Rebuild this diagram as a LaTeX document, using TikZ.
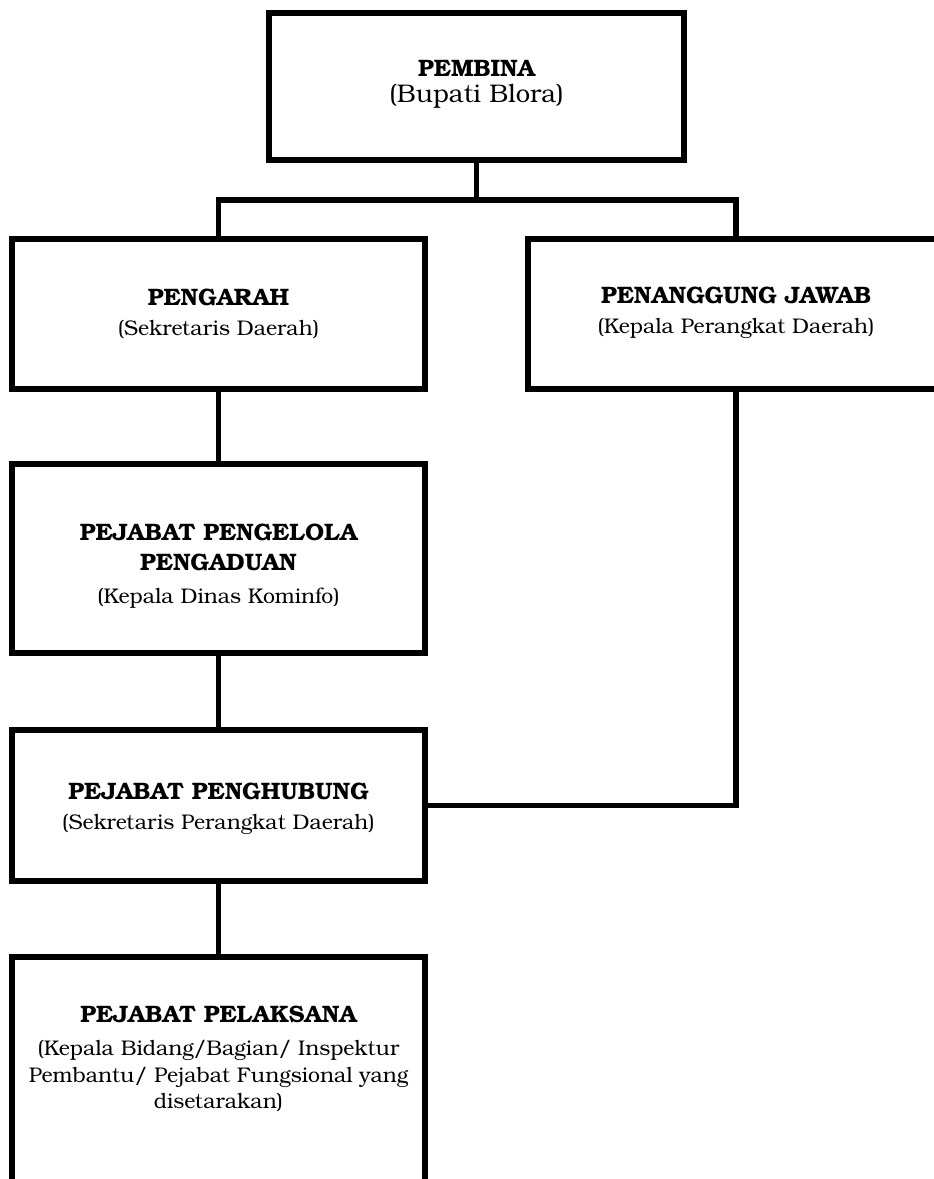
\documentclass[tikz,border=0pt]{standalone}
\usepackage{fontspec}
\setmainfont{texgyrebonum}[Extension=.otf, UprightFont=*-regular, BoldFont=*-bold, ItalicFont=*-italic, BoldItalicFont=*-bolditalic]
\begin{document}
\begin{tikzpicture}[x=1pt,y=-1pt,
  box/.style={draw=black, line width=6pt, fill=none, rectangle, inner sep=0pt, outer sep=0pt},
  conn/.style={draw=black, line width=5.5pt},
  lbl/.style={align=center, inner sep=0pt, font=\fontsize{21.2}{26.5}\selectfont}]
\newcommand{\ttlfont}{\bfseries\fontsize{23.8}{26}\selectfont}
\useasboundingbox (0,0) rectangle (934,1179);
\clip (0,0) rectangle (934,1179);
\fill[white] (0,0) rectangle (934,1179);
% boxes
\node[box, minimum width=415pt, minimum height=147pt] (pembina) at (476.5,86.5) {};
\node[box, minimum width=413pt, minimum height=150pt] (pengarah) at (218.5,314) {};
\node[box, minimum width=416pt, minimum height=150pt] (pj) at (736,314) {};
\node[box, minimum width=413pt, minimum height=189pt] (pengelola) at (218.5,558.5) {};
\node[box, minimum width=413pt, minimum height=151pt] (penghubung) at (218.5,805.5) {};
\node[box, minimum width=413pt, minimum height=300pt, anchor=north] (pelaksana) at (218.5,957) {};
% texts
\node[lbl, font=\fontsize{25.5}{26}\selectfont] (pembina-t) at (476.5,84.5) {{\ttlfont PEMBINA}\\(Bupati Blora)};
\node[lbl] (pengarah-t) at (218.5,313.5) {{\ttlfont PENGARAH}\\[3.5pt](Sekretaris Daerah)};
\node[lbl] (pj-t) at (736,313) {{\ttlfont PENANGGUNG JAWAB}\\[3.5pt](Kepala Perangkat Daerah)};
\node[lbl] (pengelola-t) at (218.5,566) {{\ttlfont PEJABAT PENGELOLA}\\[3.5pt]{\ttlfont PENGADUAN}\\[6pt](Kepala Dinas Kominfo)};
\node[lbl] (penghubung-t) at (218.5,809) {{\ttlfont PEJABAT PENGHUBUNG}\\[3pt](Sekretaris Perangkat Daerah)};
\node[lbl] (pelaksana-t) at (218.5,1059) {{\ttlfont PEJABAT PELAKSANA}\\[6.5pt](Kepala Bidang/Bagian/ Inspektur\\Pembantu/ Pejabat Fungsional yang\\disetarakan)};
% connectors
\coordinate (bar) at (476.5,200);
\draw[conn] (pembina.south) -- (bar);
\draw[conn] (pengarah.north) |- (bar) -| (pj.north);
\draw[conn] (pengarah.south) -- (pengelola.north);
\draw[conn] (pengelola.south) -- (penghubung.north);
\draw[conn] (penghubung.south) -- (pelaksana.north);
\draw[conn] (pj.south) |- (penghubung.east);
\end{tikzpicture}
\end{document}
